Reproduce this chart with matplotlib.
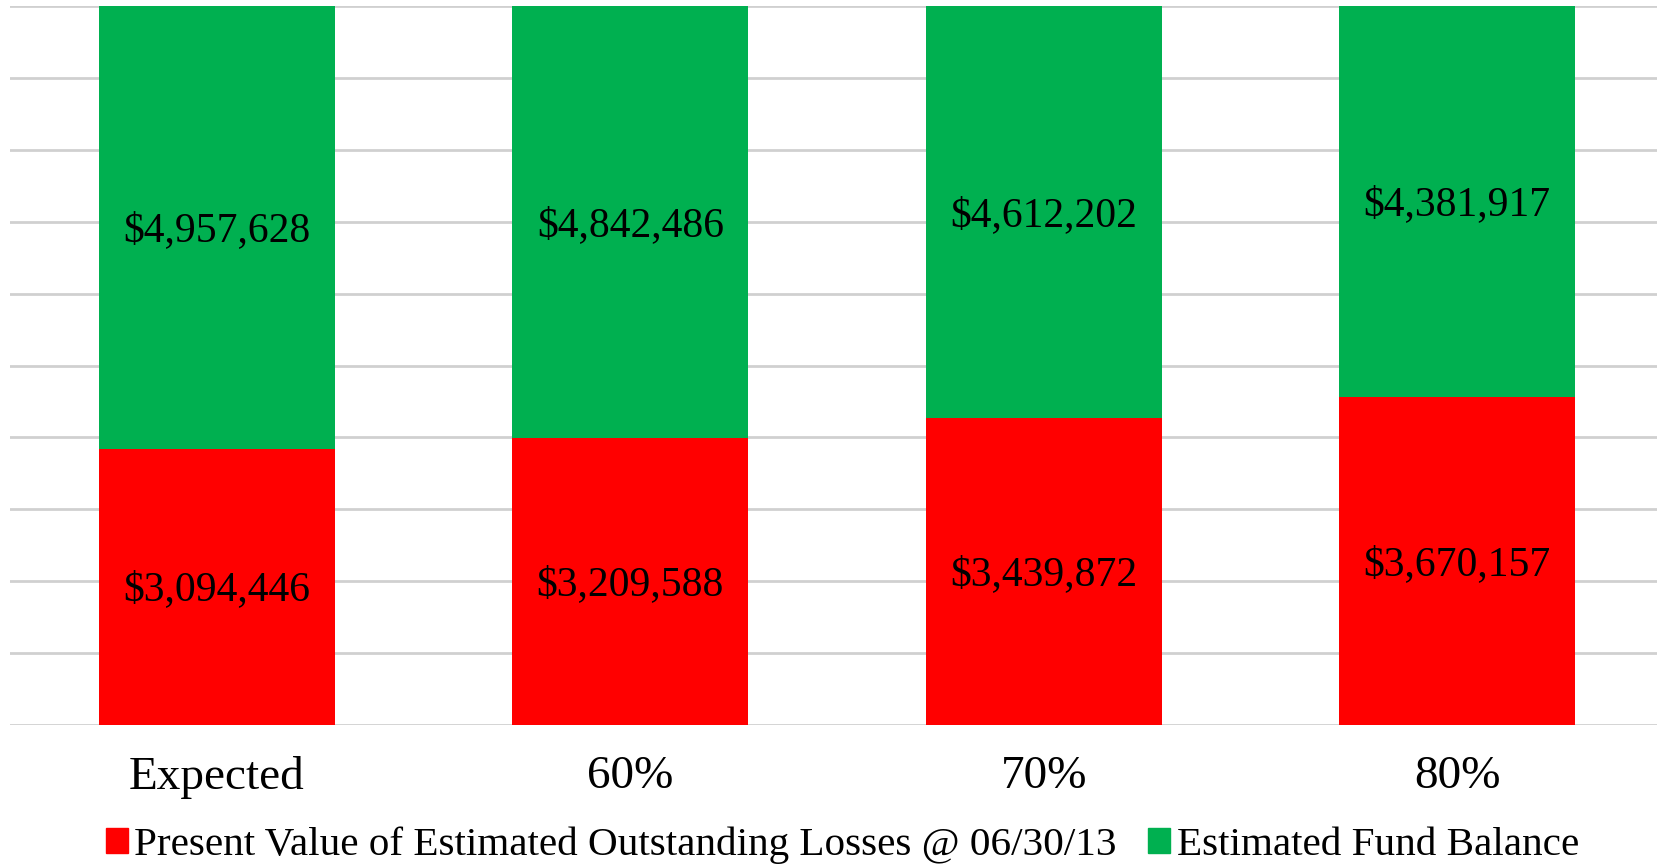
import numpy as np
import matplotlib.pyplot as plt
from matplotlib.patches import Patch

categories = ['Expected', '60%', '70%', '80%']
losses = [3094446, 3209588, 3439872, 3670157]
fund_balance = [4957628, 4842486, 4612202, 4381917]

red = '#ff0000'
green = '#00b050'

plt.rcParams['font.family'] = ['Liberation Serif', 'DejaVu Serif']

fig = plt.figure(figsize=(16.58, 8.65), dpi=100)
ax = fig.add_axes([10.3 / 1658, 140 / 865, 1653.7 / 1658, 719 / 865])

x = np.arange(len(categories))
losses = np.array(losses)
fund_balance = np.array(fund_balance)
total = losses + fund_balance

# 100% stacked columns
ax.bar(x, losses, width=0.571, color=red, zorder=2)
ax.bar(x, fund_balance, width=0.571, bottom=losses, color=green, zorder=2)

for i in range(len(x)):
    ax.annotate(f'${losses[i]:,}', (x[i], losses[i] / 2), xytext=(0, -2.5),
                textcoords='offset points', ha='center', va='center',
                fontsize=30, zorder=3)
    ax.annotate(f'${fund_balance[i]:,}', (x[i], losses[i] + fund_balance[i] / 2),
                xytext=(0, -2.5), textcoords='offset points', ha='center',
                va='center', fontsize=30, zorder=3)

ax.set_xlim(-0.5, 3.5)
ax.set_ylim(0, total.max())
ax.set_yticks(np.linspace(0, total.max(), 11))
ax.yaxis.grid(True, color='#d0d0d0', linewidth=2, zorder=0)
ax.set_yticklabels([])
ax.tick_params(axis='y', length=0)
ax.tick_params(axis='x', length=0, pad=22, labelsize=34)
ax.set_xticks(x)
ax.set_xticklabels(categories)
for side in ['top', 'right', 'left', 'bottom']:
    ax.spines[side].set_visible(False)

handles = [Patch(color=red), Patch(color=green)]
labels = ['Present Value of Estimated Outstanding Losses @ 06/30/13',
          'Estimated Fund Balance']
fig.legend(handles, labels, loc='center', bbox_to_anchor=(0.508, 20 / 865), ncol=2,
           frameon=False, fontsize=29.6, handlelength=0.55, handleheight=0.55,
           handletextpad=0.15, columnspacing=0.75, borderpad=0.1)

fig.savefig('out.png', dpi=100)
